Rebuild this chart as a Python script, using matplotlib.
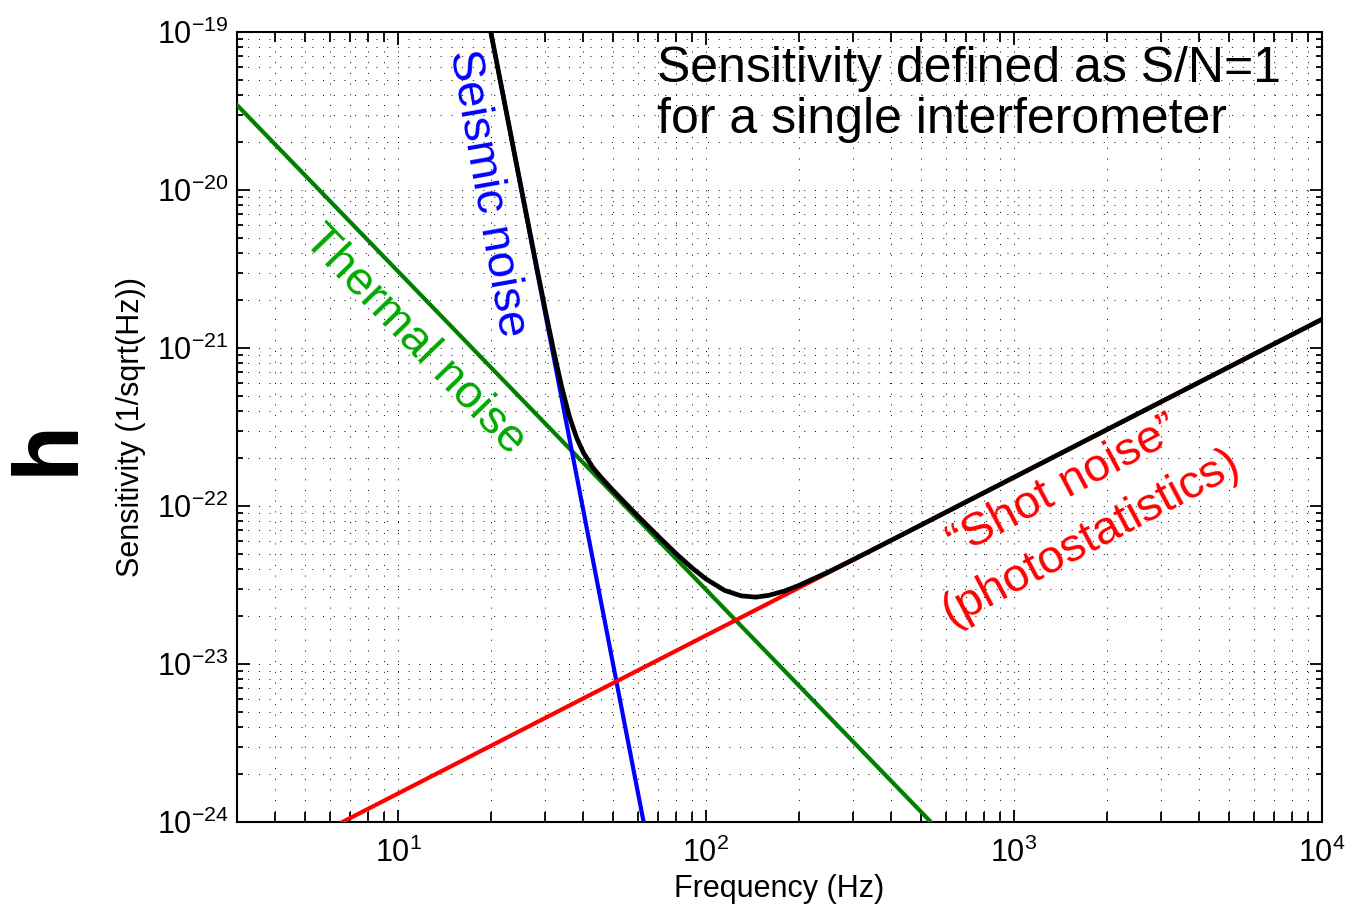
import matplotlib
matplotlib.use("Agg")
import matplotlib.pyplot as plt
from matplotlib.ticker import LogLocator, NullFormatter

plt.rcParams["font.family"] = ["Liberation Sans", "DejaVu Sans"]
plt.rcParams["mathtext.default"] = "regular"

# ---------------------------------------------------------
# dados
# ---------------------------------------------------------

freq_thermal = [3.0, 537.0]
h_thermal = [3.45e-20, 1.0e-24]

freq_seismic = [20.0, 62.7]
h_seismic = [1.0e-19, 1.0e-24]

freq_shot = [6.6, 10000.0]
h_shot = [1.0e-24, 1.52e-21]

freq_total = [20, 22, 25, 28, 30, 32, 34, 36, 38, 40, 43, 46, 50, 60, 70,
              80, 90, 100, 115, 130, 145, 160, 180, 200, 250, 300, 400,
              600, 1000, 3000, 10000]
h_total = [1.0e-19, 3.86e-20, 1.075e-20, 3.48e-21, 1.77e-21, 9.6e-22,
           5.65e-22, 3.68e-22, 2.70e-22, 2.17e-22, 1.74e-22, 1.49e-22,
           1.25e-22, 8.66e-23, 6.42e-23, 4.99e-23, 4.06e-23, 3.45e-23,
           2.92e-23, 2.70e-23, 2.65e-23, 2.72e-23, 2.90e-23, 3.14e-23,
           3.83e-23, 4.57e-23, 6.08e-23, 9.12e-23, 1.52e-22, 4.56e-22,
           1.52e-21]

x_ticks = [1e1, 1e2, 1e3, 1e4]
y_ticks = [1e-24, 1e-23, 1e-22, 1e-21, 1e-20, 1e-19]

# ---------------------------------------------------------
# figura
# ---------------------------------------------------------

fig = plt.figure(figsize=(13.49, 9.09), dpi=100)
ax = fig.add_axes([0.1757, 0.0957, 0.8043, 0.8691])

ax.plot(freq_thermal, h_thermal, color="#007f00", lw=3.0, zorder=3)
ax.plot(freq_seismic, h_seismic, color="#0000ff", lw=3.0, zorder=4)
ax.plot(freq_shot, h_shot, color="#ff0000", lw=3.0, zorder=5)
ax.plot(freq_total, h_total, color="black", lw=3.4, zorder=6,
        solid_joinstyle="round")

ax.set_xscale("log")
ax.set_yscale("log")
ax.set_xlim(3, 1e4)
ax.set_ylim(1e-24, 1e-19)
ax.set_xticks(x_ticks)
ax.set_yticks(y_ticks)
ax.xaxis.set_minor_locator(LogLocator(base=10, subs=range(2, 10), numticks=50))
ax.yaxis.set_minor_locator(LogLocator(base=10, subs=range(2, 10), numticks=50))
ax.xaxis.set_minor_formatter(NullFormatter())
ax.yaxis.set_minor_formatter(NullFormatter())

ax.grid(True, which="both", color="black", lw=0.7, linestyle=(0, (1, 10)))
ax.set_axisbelow(True)

ax.tick_params(which="both", direction="in", top=True, right=True,
               labelsize=22, width=1.3)
ax.tick_params(axis="x", which="major", length=9, pad=11)
ax.tick_params(axis="x", which="minor", length=7)
ax.tick_params(axis="y", which="major", length=9, pad=6)
ax.tick_params(axis="y", which="minor", length=4.5)
for s in ax.spines.values():
    s.set_linewidth(1.5)

ax.set_xlabel("Frequency (Hz)", fontsize=22)
ax.xaxis.set_label_coords(0.5, -0.066)
ax.set_ylabel("Sensitivity (1/sqrt(Hz))", fontsize=22)
ax.yaxis.set_label_coords(-0.084, 0.5)

fig.text(0.036, 0.508, "h", fontsize=66, fontweight="bold", rotation=90,
         ha="center", va="center")

# textos das curvas
ax.text(0.387, 0.982, "Sensitivity defined as S/N=1\nfor a single interferometer",
        transform=ax.transAxes, fontsize=36, ha="left", va="top",
        linespacing=1.12, zorder=7)
ax.text(19.5, 10**-20.02, "Seismic noise", color="#0000ff", fontsize=34,
        rotation=-80, rotation_mode="anchor", ha="center", va="center",
        zorder=7)
ax.text(11.35, 10**-20.95, "Thermal noise", color="#00aa00", fontsize=34,
        rotation=-46, rotation_mode="anchor", ha="center", va="center",
        zorder=7)
ax.text(1600, 10**-22.04, "\u201cShot noise\u201d\n(photostatistics)",
        color="#ff0000", fontsize=34, rotation=28, rotation_mode="anchor",
        ha="center", va="center", multialignment="center", linespacing=1.4,
        zorder=7)

fig.savefig("out.png", dpi=100, facecolor="white")
